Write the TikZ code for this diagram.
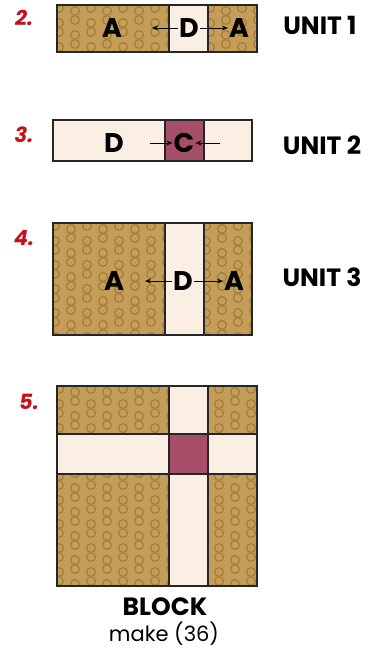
\documentclass[tikz,border=0pt]{standalone}
\usepackage{fontspec}
\setmainfont{Poppins}
\usetikzlibrary{arrows.meta}

\definecolor{goldfab}{HTML}{C49E58}
\definecolor{goldring}{HTML}{A47E38}
\definecolor{creamfab}{HTML}{FBEEE2}
\definecolor{plumfab}{HTML}{A64E68}
\definecolor{steplabel}{HTML}{C4121B}

\tikzset{
  seam/.style={draw=black!85, line width=1.2pt},
  patchtext/.style={font=\fontsize{27}{27}\selectfont\bfseries, inner sep=1pt},
  unittext/.style={font=\fontsize{25}{25}\selectfont\bfseries},
  stepnum/.style={font=\fontsize{21}{21}\selectfont\bfseries\itshape, text=steplabel},
  pressarrow/.style={-{Stealth[length=6pt, width=5pt]}, line width=0.9pt}
}

% gold patterned patch: x1, y1, x2, y2
\newcommand{\goldpatch}[4]{%
  \begin{scope}
    \clip (#1,#2) rectangle (#3,#4);
    \fill[goldfab] (#1,#2) rectangle (#3,#4);
    \foreach \i in {0,...,13} {
      \foreach \j in {0,...,9} {
        \pgfmathsetmacro{\shift}{mod(\i,2)*12}
        \draw[goldring, line width=1.2pt] ({#1+2+16*\i}, {#2-6+24*\j+\shift}) circle (4.4);
        \draw[goldring, line width=1.2pt] ({#1+2+16*\i}, {#2+3+24*\j+\shift}) circle (4.4);
      }
    }
  \end{scope}}

\begin{document}
\begin{tikzpicture}[x=1pt, y=-1pt]
  \useasboundingbox (0,0) rectangle (372,650);

  % Step 2: unit 1
  \goldpatch{57}{5}{169}{52}
  \goldpatch{208}{5}{257}{52}
  \fill[creamfab] (169,5) rectangle (208,52);
  \draw[seam] (57,5) rectangle (257,52);
  \draw[seam] (169,5) -- (169,52) (208,5) -- (208,52);
  \node[stepnum] (s2) at (24,18) {2.};
  \node[patchtext] (aL1) at (112,28) {A};
  \node[patchtext] (d1) at (189,28) {D};
  \node[patchtext] (aR1) at (239,28) {A};
  \coordinate (tipL1) at (152,28);
  \draw[pressarrow] (d1) -- (tipL1);
  \draw[pressarrow] (d1) -- (aR1);
  \node[unittext] (u1) at (320,25) {UNIT 1};

  % Step 3: unit 2
  \fill[creamfab] (53,120) rectangle (252,161);
  \fill[plumfab] (165,120) rectangle (204,161);
  \draw[seam] (53,120) rectangle (252,161);
  \draw[seam] (165,120) -- (165,161) (204,120) -- (204,161);
  \node[stepnum] (s3) at (24,135) {3.};
  \node[patchtext] (d2) at (114,143) {D};
  \node[patchtext] (c2) at (184,143) {C};
  \coordinate (tailL2) at (150,143);
  \coordinate (tailR2) at (220,143);
  \draw[pressarrow] (tailL2) -- (c2);
  \draw[pressarrow] (tailR2) -- (c2);
  \node[unittext] (u2) at (322,145) {UNIT 2};

  % Step 4: unit 3
  \goldpatch{53}{223}{165}{335}
  \goldpatch{204}{223}{252}{335}
  \fill[creamfab] (165,223) rectangle (204,335);
  \draw[seam] (53,223) rectangle (252,335);
  \draw[seam] (165,223) -- (165,335) (204,223) -- (204,335);
  \node[stepnum] (s4) at (24,238) {4.};
  \node[patchtext] (aL3) at (114,281) {A};
  \node[patchtext] (d3) at (183,281) {D};
  \node[patchtext] (aR3) at (234,281) {A};
  \coordinate (tipL3) at (145,281);
  \draw[pressarrow] (d3) -- (tipL3);
  \draw[pressarrow] (d3) -- (aR3);
  \node[unittext] (u3) at (322,277) {UNIT 3};

  % Step 5: block
  \goldpatch{57}{386}{257}{586}
  \fill[creamfab] (169,386) rectangle (208,586);
  \fill[creamfab] (57,434) rectangle (257,474);
  \fill[plumfab] (169,434) rectangle (208,474);
  \draw[seam] (57,386) rectangle (257,586);
  \draw[seam] (169,386) -- (169,586) (208,386) -- (208,586);
  \draw[seam] (57,434) -- (257,434) (57,474) -- (257,474);
  \node[stepnum] (s5) at (29,402) {5.};
  \node[unittext] (blk) at (165,607) {BLOCK};
  \node[font=\fontsize{21}{21}\selectfont] (mk) at (164,634) {make (36)};

\end{tikzpicture}
\end{document}
